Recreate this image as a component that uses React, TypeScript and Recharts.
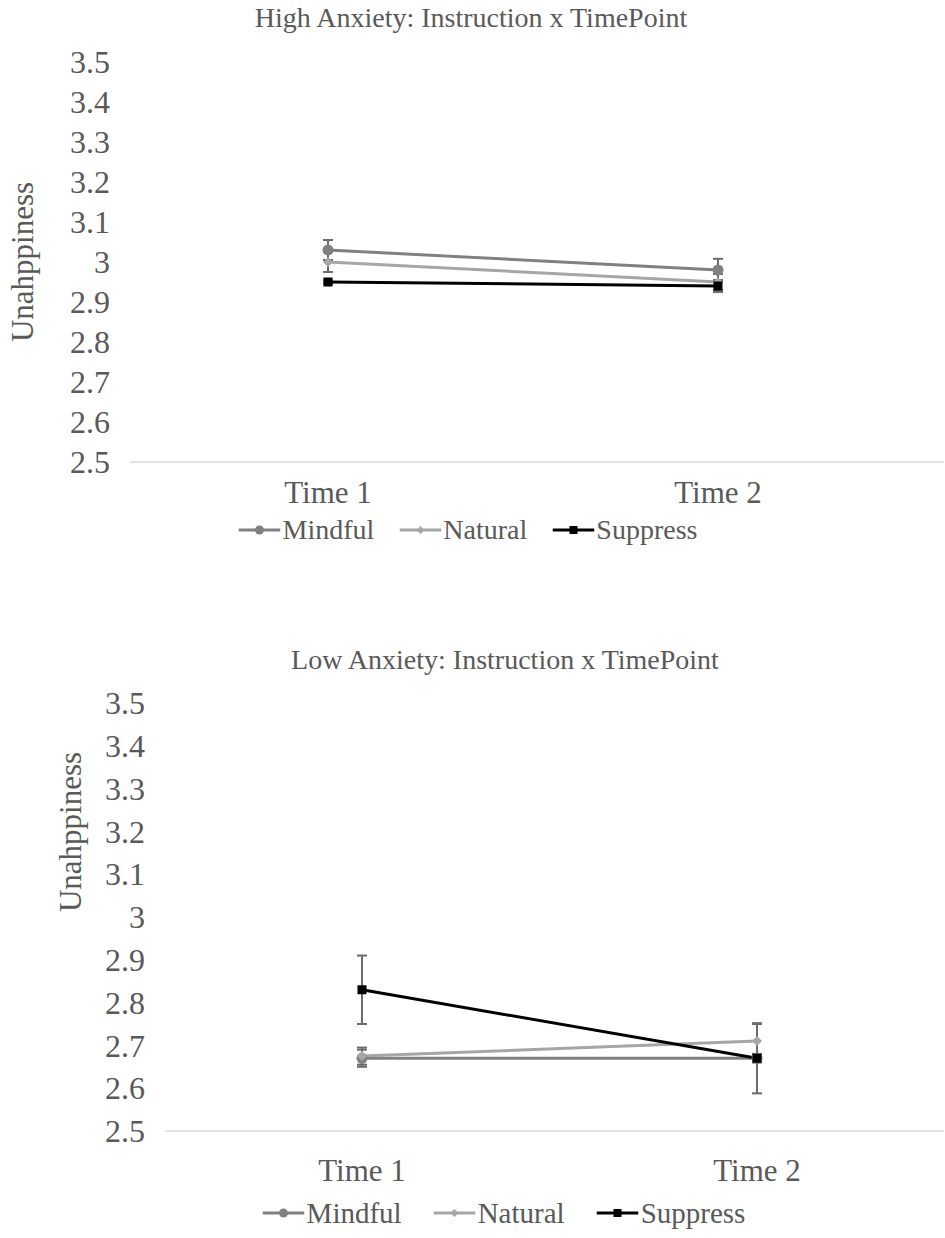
import React from 'react';
import { LineChart, Line, XAxis, YAxis, ErrorBar, Legend } from 'recharts';

const categories = ['Time 1', 'Time 2'];
const yTicks = [2.5, 2.6, 2.7, 2.8, 2.9, 3, 3.1, 3.2, 3.3, 3.4, 3.5];
const seriesNames = ['Mindful', 'Natural', 'Suppress'];

// High anxiety
const highMindful = [3.03, 2.98];
const highMindfulErr = [0.025, 0.028];
const highNatural = [3.0, 2.95];
const highNaturalErr = [0.025, 0.02];
const highSuppress = [2.95, 2.94];
const highSuppressErr = [0.004, 0.015];

// Low anxiety
const lowMindful = [2.67, 2.67];
const lowMindfulErr = [0.02, 0.01];
const lowNatural = [2.675, 2.71];
const lowNaturalErr = [0.02, 0.04];
const lowSuppress = [2.83, 2.67];
const lowSuppressErr = [0.08, 0.082];

const FONT = "'Liberation Serif', 'Times New Roman', serif";
const TEXT = '#595959';
const C_MINDFUL = '#808080';
const C_NATURAL = '#a6a6a6';
const C_SUPPRESS = '#000000';
const C_ERR = '#6b6b6b';

function buildRows(m: number[], me: number[], n: number[], ne: number[], s: number[], se: number[]) {
  return categories.map((c, i) => ({
    time: c,
    Mindful: m[i],
    mindfulErr: me[i],
    Natural: n[i],
    naturalErr: ne[i],
    Suppress: s[i],
    suppressErr: se[i],
  }));
}

const highData = buildRows(highMindful, highMindfulErr, highNatural, highNaturalErr, highSuppress, highSuppressErr);
const lowData = buildRows(lowMindful, lowMindfulErr, lowNatural, lowNaturalErr, lowSuppress, lowSuppressErr);

const circleDot = (p: any) => {
  if (p.cx == null || p.cy == null) return <g key={p.index} />;
  return <circle key={p.index} cx={p.cx} cy={p.cy} r={5.5} fill={C_MINDFUL} />;
};
const diamondDot = (p: any) => {
  if (p.cx == null || p.cy == null) return <g key={p.index} />;
  const r = 5;
  return (
    <polygon
      key={p.index}
      points={`${p.cx},${p.cy - r} ${p.cx + r},${p.cy} ${p.cx},${p.cy + r} ${p.cx - r},${p.cy}`}
      fill={C_NATURAL}
    />
  );
};
const squareDot = (p: any) => {
  if (p.cx == null || p.cy == null) return <g key={p.index} />;
  const h = 4.5;
  return <rect key={p.index} x={p.cx - h} y={p.cy - h} width={h * 2} height={h * 2} fill={C_SUPPRESS} />;
};

const markerFor: Record<string, (cx: number, cy: number) => React.ReactNode> = {
  Mindful: (cx, cy) => <circle cx={cx} cy={cy} r={4.5} fill={C_MINDFUL} />,
  Natural: (cx, cy) => (
    <polygon points={`${cx},${cy - 4} ${cx + 4},${cy} ${cx},${cy + 4} ${cx - 4},${cy}`} fill={C_NATURAL} />
  ),
  Suppress: (cx, cy) => <rect x={cx - 4} y={cy - 4} width={8} height={8} fill={C_SUPPRESS} />,
};
const colorFor: Record<string, string> = { Mindful: C_MINDFUL, Natural: C_NATURAL, Suppress: C_SUPPRESS };

const makeLegend = (centerX: number, gap: number, fontSize: number) => () => (
  <div
    style={{
      width: 945,
      display: 'flex',
      justifyContent: 'center',
      transform: `translateX(${centerX - 472.5}px)`,
      fontFamily: FONT,
      fontSize,
      color: TEXT,
      lineHeight: '30px',
    }}
  >
    {seriesNames.map((name, i) => (
      <div key={name} style={{ display: 'flex', alignItems: 'center', marginLeft: i === 0 ? 0 : gap }}>
        <svg width={42} height={20} style={{ marginRight: 2 }}>
          <line x1={0} y1={10} x2={42} y2={10} stroke={colorFor[name]} strokeWidth={3} />
          {markerFor[name](21, 10)}
        </svg>
        <span>{name}</span>
      </div>
    ))}
  </div>
);

const makeYTick = (rightX: number) => (p: any) => (
  <text
    x={rightX}
    y={p.y}
    dy="0.35em"
    textAnchor="end"
    fontFamily={FONT}
    fontSize={32}
    fill={TEXT}
  >
    {String(p.payload.value)}
  </text>
);

const makeXTick = (y: number) => (p: any) => (
  <text x={p.x} y={y} dy="0.35em" textAnchor="middle" fontFamily={FONT} fontSize={31} fill={TEXT}>
    {p.payload.value}
  </text>
);

const makeYLabel = (x: number, y: number) => () => (
  <text
    x={x}
    y={y}
    dy="0.35em"
    textAnchor="middle"
    transform={`rotate(-90 ${x} ${y})`}
    fontFamily={FONT}
    fontSize={31}
    fill={TEXT}
  >
    Unahppiness
  </text>
);

interface PanelProps {
  data: any[];
  top: number;
  height: number;
  marginTop: number;
  marginBottom: number;
  yAxisWidth: number;
  padLeft: number;
  padRight: number;
  tickRight: number;
  xTickY: number;
  yLabelX: number;
  yLabelY: number;
  legendTop: number;
  legendCenter: number;
  legendGap: number;
  legendFont: number;
  title: string;
  titleX: number;
  titleY: number;
}

function Panel(props: PanelProps) {
  return (
    <div style={{ position: 'absolute', left: 0, top: props.top, width: 945, height: props.height }}>
      <div
        style={{
          position: 'absolute',
          left: props.titleX - 350,
          width: 700,
          top: props.titleY - 15,
          height: 30,
          lineHeight: '30px',
          textAlign: 'center',
          fontFamily: FONT,
          fontSize: 28,
          color: TEXT,
          whiteSpace: 'nowrap',
        }}
      >
        {props.title}
      </div>
      <LineChart
        width={945}
        height={props.height}
        data={props.data}
        margin={{ top: props.marginTop, right: 1, bottom: props.marginBottom, left: 0 }}
      >
        <XAxis
          dataKey="time"
          type="category"
          scale="point"
          padding={{ left: props.padLeft, right: props.padRight }}
          axisLine={{ stroke: '#d9d9d9', strokeWidth: 1.5 }}
          tickLine={false}
          height={40}
          tick={makeXTick(props.xTickY)}
          interval={0}
        />
        <YAxis
          type="number"
          domain={[2.5, 3.5]}
          ticks={yTicks}
          interval={0}
          axisLine={false}
          tickLine={false}
          width={props.yAxisWidth}
          tick={makeYTick(props.tickRight)}
          label={makeYLabel(props.yLabelX, props.yLabelY)}
        />
        <Legend
          layout="horizontal"
          verticalAlign="middle"
          align="center"
          wrapperStyle={{ top: props.legendTop, left: 0, width: 945 }}
          content={makeLegend(props.legendCenter, props.legendGap, props.legendFont)}
        />
        <Line
          dataKey="Mindful"
          stroke={C_MINDFUL}
          strokeWidth={3}
          dot={circleDot}
          activeDot={false}
          isAnimationActive={false}
        >
          <ErrorBar dataKey="mindfulErr" width={5} strokeWidth={2} stroke={C_ERR} direction="y" />
        </Line>
        <Line
          dataKey="Natural"
          stroke={C_NATURAL}
          strokeWidth={3}
          dot={diamondDot}
          activeDot={false}
          isAnimationActive={false}
        >
          <ErrorBar dataKey="naturalErr" width={5} strokeWidth={2} stroke={C_ERR} direction="y" />
        </Line>
        <Line
          dataKey="Suppress"
          stroke={C_SUPPRESS}
          strokeWidth={3}
          dot={squareDot}
          activeDot={false}
          isAnimationActive={false}
        >
          <ErrorBar dataKey="suppressErr" width={5} strokeWidth={2} stroke={C_ERR} direction="y" />
        </Line>
      </LineChart>
    </div>
  );
}

export default function App() {
  return (
    <div
      style={{
        position: 'absolute',
        left: 0,
        top: 0,
        width: 945,
        height: 1238,
        overflow: 'hidden',
        background: '#ffffff',
      }}
    >
      <Panel
        data={highData}
        top={0}
        height={560}
        marginTop={62}
        marginBottom={58}
        yAxisWidth={130}
        padLeft={198}
        padRight={226}
        tickRight={110}
        xTickY={492}
        yLabelX={22}
        yLabelY={262}
        legendTop={515}
        legendCenter={468}
        legendGap={25}
        legendFont={28}
        title="High Anxiety: Instruction x TimePoint"
        titleX={471}
        titleY={18}
      />
      <Panel
        data={lowData}
        top={600}
        height={638}
        marginTop={103}
        marginBottom={67}
        yAxisWidth={165}
        padLeft={197}
        padRight={187}
        tickRight={145}
        xTickY={570}
        yLabelX={70}
        yLabelY={232}
        legendTop={598}
        legendCenter={504}
        legendGap={32}
        legendFont={29}
        title="Low Anxiety: Instruction x TimePoint"
        titleX={505}
        titleY={60}
      />
    </div>
  );
}
